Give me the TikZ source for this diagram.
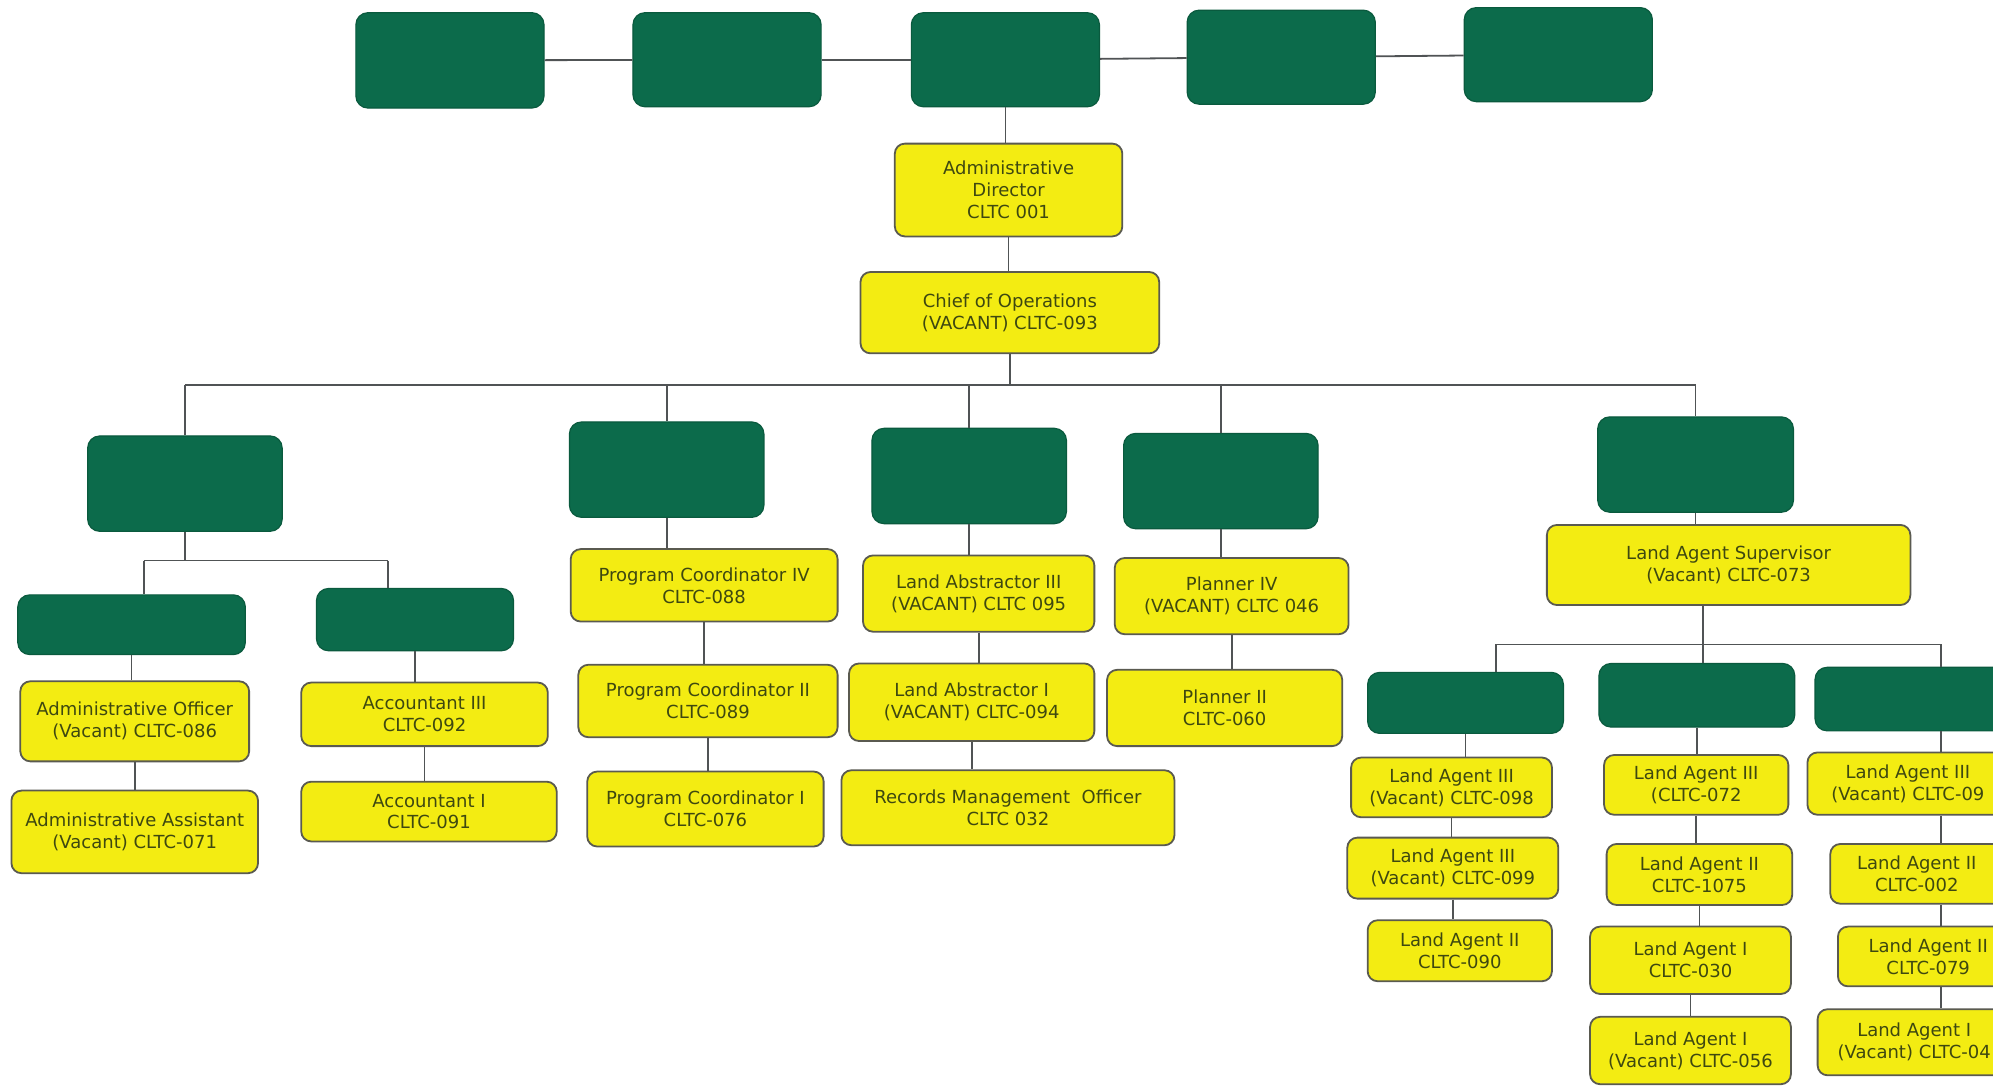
\documentclass[tikz,border=0pt]{standalone}
\usepackage{fontspec}
\setmainfont{DejaVu Sans}
\definecolor{yel}{HTML}{F3EC12}
\definecolor{grn}{HTML}{0C6B4B}
\definecolor{grnedge}{HTML}{0A5A3E}
\definecolor{txt}{HTML}{3E4810}
\definecolor{edge}{HTML}{5A5A50}
\definecolor{conn}{HTML}{505355}
\newcommand\mybox[7]{%
  \node[#1, minimum width={(#5-#3)*0.63555pt}, minimum height={(#6-#4)*0.63555pt}] (#2) at ({(#3+#5)/2},{(#4+#6)/2}) {#7};}
\tikzset{
  ybox/.style={draw=edge, line width=0.9pt, fill=yel, rounded corners=5pt, text=txt,
    font=\fontsize{9}{11}\selectfont, align=center, inner sep=0pt},
  gbox/.style={draw=grnedge, line width=0.6pt, fill=grn, rounded corners=6pt, inner sep=0pt},
  link/.style={draw=conn, line width=0.9pt}
}
\begin{document}
\begin{tikzpicture}[x=0.63555pt, y=-0.63555pt]
\useasboundingbox (0,0) rectangle (1568,856);
\fill[white] (0,0) rectangle (1568,856);
\clip (0,0) rectangle (1568,856);
% top row
\mybox{gbox}{g1}{280}{10}{428}{85}{}
\mybox{gbox}{g2}{498}{10}{646}{84}{}
\mybox{gbox}{g3}{717}{10}{865}{84}{}
\mybox{gbox}{g4}{934}{8}{1082}{82}{}
\mybox{gbox}{g5}{1152}{6}{1300}{80}{}
\mybox{ybox}{ad}{704}{113}{883}{186}{Administrative\\Director\\CLTC 001}
\mybox{ybox}{co}{677}{214}{912}{278}{Chief of Operations\\(VACANT) CLTC-093}
% second level
\mybox{gbox}{ga}{69}{343}{222}{418}{}
\mybox{gbox}{gp}{448}{332}{601}{407}{}
\mybox{gbox}{gl}{686}{337}{839}{412}{}
\mybox{gbox}{gpl}{884}{341}{1037}{416}{}
\mybox{gbox}{gla}{1257}{328}{1411}{403}{}
% admin
\mybox{gbox}{ga1}{14}{468}{193}{515}{}
\mybox{gbox}{ga2}{249}{463}{404}{512}{}
\mybox{ybox}{ao}{16}{536}{196}{599}{Administrative Officer\\(Vacant) CLTC-086}
\mybox{ybox}{aa}{9}{622}{203}{687}{Administrative Assistant\\(Vacant) CLTC-071}
\mybox{ybox}{ac3}{237}{537}{431}{587}{Accountant III\\CLTC-092}
\mybox{ybox}{ac1}{237}{615}{438}{662}{Accountant I\\CLTC-091}
% program
\mybox{ybox}{pc4}{449}{432}{659}{489}{Program Coordinator IV\\CLTC-088}
\mybox{ybox}{pc2}{455}{523}{659}{580}{Program Coordinator II\\CLTC-089}
\mybox{ybox}{pc1}{462}{607}{648}{666}{Program Coordinator I\\CLTC-076}
% land abstract
\mybox{ybox}{la3}{679}{437}{861}{497}{Land Abstractor III\\(VACANT) CLTC 095}
\mybox{ybox}{la1}{668}{522}{861}{583}{Land Abstractor I\\(VACANT) CLTC-094}
\mybox{ybox}{rmo}{662}{606}{924}{665}{Records Management\ \ Officer\\CLTC 032}
% planner
\mybox{ybox}{pl4}{877}{439}{1061}{499}{Planner IV\\(VACANT) CLTC 046}
\mybox{ybox}{pl2}{871}{527}{1056}{587}{Planner II\\CLTC-060}
% land agents
\mybox{ybox}{las}{1217}{413}{1503}{476}{Land Agent Supervisor\\(Vacant) CLTC-073}
\mybox{gbox}{gla1}{1076}{529}{1230}{577}{}
\mybox{gbox}{gla2}{1258}{522}{1412}{572}{}
\mybox{gbox}{gla3}{1428}{525}{1610}{575}{}
\mybox{ybox}{a1}{1063}{596}{1221}{643}{Land Agent III\\(Vacant) CLTC-098}
\mybox{ybox}{a2}{1060}{659}{1226}{707}{Land Agent III\\(Vacant) CLTC-099}
\mybox{ybox}{a3}{1076}{724}{1221}{772}{Land Agent II\\CLTC-090}
\mybox{ybox}{b1}{1262}{594}{1407}{641}{Land Agent III\\(CLTC-072}
\mybox{ybox}{b2}{1264}{664}{1410}{712}{Land Agent II\\CLTC-1075}
\mybox{ybox}{b3}{1251}{729}{1409}{782}{Land Agent I\\CLTC-030}
\mybox{ybox}{b4}{1251}{800}{1409}{853}{Land Agent I\\(Vacant) CLTC-056}
\mybox{ybox}{c1}{1422}{592}{1580}{641}{Land Agent III\\(Vacant) CLTC-09}
\mybox{ybox}{c2}{1440}{664}{1576}{711}{Land Agent II\\CLTC-002}
\mybox{ybox}{c3}{1446}{729}{1588}{776}{Land Agent II\\CLTC-079}
\mybox{ybox}{c4}{1430}{794}{1582}{846}{Land Agent I\\(Vacant) CLTC-04}
% connectors
\coordinate (bus) at (790,303);
\coordinate (ab1) at (113,441);
\coordinate (ab2) at (305,441);
\coordinate (lb1) at (1177,507);
\coordinate (lbm) at (1340,507);
\coordinate (lb2) at (1527,507);
\draw[link] (g1) -- (g2);
\draw[link] (g2) -- (g3);
\draw[link] (g3) -- (g4);
\draw[link] (g4) -- (g5);
\draw[link] (g3.south) -- (g3.south |- ad.north);
\draw[link] (ad.south) -- (ad.south |- co.north);
\draw[link] (co.south) -- (co.south |- bus);
\draw[link] (ga.north |- bus) -- (gla.north |- bus);
\draw[link] (ga.north |- bus) -- (ga.north);
\draw[link] (gp.north |- bus) -- (gp.north);
\draw[link] (gl.north |- bus) -- (gl.north);
\draw[link] (gpl.north |- bus) -- (gpl.north);
\draw[link] (gla.north |- bus) -- (gla.north);
\draw[link] (ga.south) -- (ga.south |- ab1);
\draw[link] (ab1) -- (ab2);
\draw[link] (ab1) -- (ab1 |- ga1.north);
\draw[link] (ab2) -- (ab2 |- ga2.north);
\draw[link] (ga1.south) -- (ga1.south |- ao.north);
\draw[link] (ao.south) -- (ao.south |- aa.north);
\draw[link] (ga2.south) -- (ga2.south |- ac3.north);
\draw[link] (ac3.south) -- (ac3.south |- ac1.north);
\draw[link] (gp.south) -- (gp.south |- pc4.north);
\draw[link] (pc4.south) -- (pc4.south |- pc2.north);
\draw[link] (pc2.south) -- (pc2.south |- pc1.north);
\draw[link] (gl.south) -- (gl.south |- la3.north);
\draw[link] (la3.south) -- (la3.south |- la1.north);
\draw[link] (la1.south) -- (la1.south |- rmo.north);
\draw[link] (gpl.south) -- (gpl.south |- pl4.north);
\draw[link] (pl4.south) -- (pl4.south |- pl2.north);
\draw[link] (gla.south) -- (gla.south |- las.north);
\draw[link] (lbm |- las.south) -- (lbm);
\draw[link] (lb1) -- (lb2);
\draw[link] (lb1) -- (lb1 |- gla1.north);
\draw[link] (lbm) -- (lbm |- gla2.north);
\draw[link] (lb2) -- (lb2 |- gla3.north);
\draw[link] (gla1.south) -- (gla1.south |- a1.north);
\draw[link] (a1.south) -- (a1.south |- a2.north);
\draw[link] (a2.south) -- (a2.south |- a3.north);
\draw[link] (gla2.south) -- (gla2.south |- b1.north);
\draw[link] (b1.south) -- (b1.south |- b2.north);
\draw[link] (b2.south) -- (b2.south |- b3.north);
\draw[link] (b3.south) -- (b3.south |- b4.north);
\draw[link] (lb2 |- gla3.south) -- (lb2 |- c1.north);
\draw[link] (lb2 |- c1.south) -- (lb2 |- c2.north);
\draw[link] (lb2 |- c2.south) -- (lb2 |- c3.north);
\draw[link] (lb2 |- c3.south) -- (lb2 |- c4.north);
\end{tikzpicture}
\end{document}
